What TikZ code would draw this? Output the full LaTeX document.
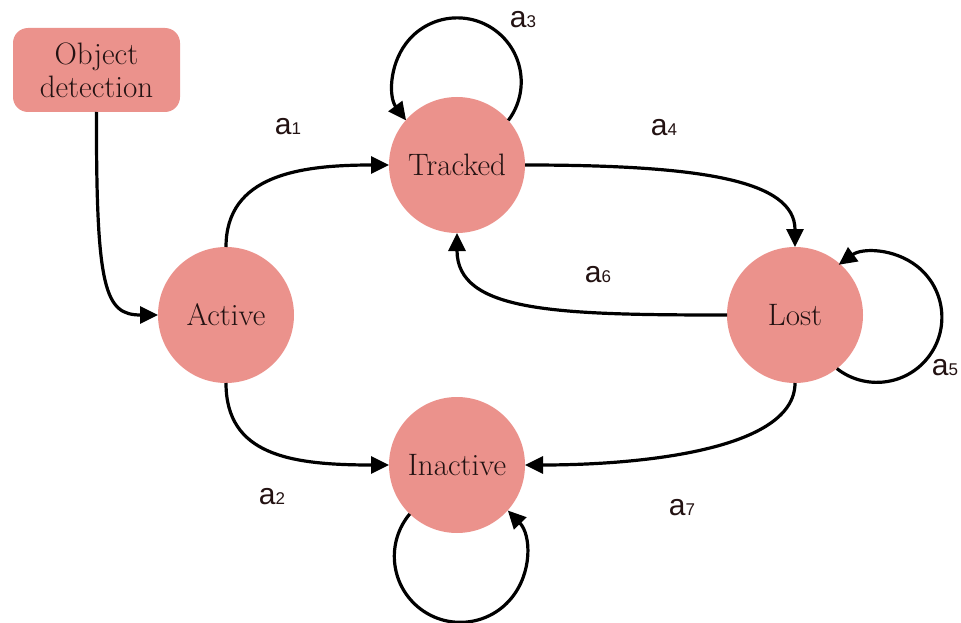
\documentclass[tikz,border=0pt]{standalone}
\usepackage{fontspec}
\newfontfamily\labelfont{Liberation Sans}
\usetikzlibrary{arrows.meta}
\definecolor{statefill}{RGB}{235,146,140}
\definecolor{inkdark}{RGB}{35,18,18}
\tikzset{
  stnode/.style={circle, fill=statefill, minimum size=136pt, inner sep=0pt,
    outer sep=0pt, font=\fontsize{31}{33}\selectfont, text=inkdark},
  startbox/.style={rectangle, rounded corners=15pt, fill=statefill,
    minimum width=167pt, minimum height=84pt, inner sep=0pt, outer sep=0pt,
    align=center, font=\fontsize{31}{33}\selectfont, text=inkdark},
  conn/.style={line width=3.2pt, -{Triangle[length=18pt,width=17pt]}},
  lbl/.style={font=\labelfont, inner sep=0pt, text=inkdark},
}
\newcommand\transname[1]{{\fontsize{30}{32}\selectfont a}{\fontsize{17}{19}\selectfont #1}}
\begin{document}
\begin{tikzpicture}[x=1pt, y=-1pt]
  \useasboundingbox (0,0) rectangle (961,623);

  % states
  \node[startbox] (det) at (96.5,70) {Object\\detection};
  \node[stnode] (active)   at (226,315) {Active};
  \node[stnode] (tracked)  at (457,165) {Tracked};
  \node[stnode] (lost)     at (795,315) {Lost};
  \node[stnode] (inactive) at (457,465) {Inactive};

  % transitions between states
  \draw[conn] (det.south) .. controls (96,290) and (105,315) .. (active.west);
  \draw[conn] (active.north) .. controls (226,175) and (300,165) .. (tracked.west);
  \draw[conn] (active.south) .. controls (226,455) and (290,465) .. (inactive.west);
  \draw[conn] (tracked.east) .. controls (700,165) and (795,180) .. (lost.north);
  \draw[conn] (lost.west) .. controls (555,315) and (457,312) .. (tracked.south);
  \draw[conn] (lost.south) .. controls (795,450) and (640,465) .. (inactive.east);

  % self loops
  \draw[conn] (tracked.41) arc[start angle=-37, end angle=217, radius=64pt];
  \draw[conn] (lost.-52) arc[start angle=-128, end angle=126, radius=65pt];
  \draw[conn] (inactive.-134) arc[start angle=140, end angle=404, radius=66pt];

  % transition labels
  \node[lbl] (l1) at (288,127) {\transname{1}};
  \node[lbl] (l2) at (272,497) {\transname{2}};
  \node[lbl] (l3) at (523,20)  {\transname{3}};
  \node[lbl] (l4) at (664,128) {\transname{4}};
  \node[lbl] (l5) at (945,368) {\transname{5}};
  \node[lbl] (l6) at (598,275) {\transname{6}};
  \node[lbl] (l7) at (682,508) {\transname{7}};
\end{tikzpicture}
\end{document}
